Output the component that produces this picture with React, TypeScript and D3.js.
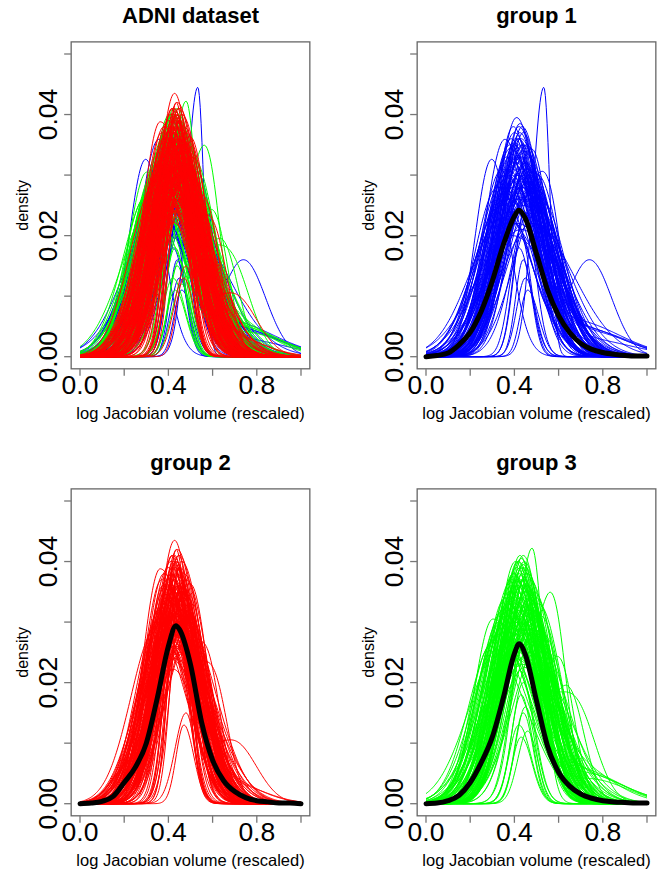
import React, { useRef, useEffect } from 'react';
import * as d3 from 'd3';

// ---- data ----
// per-subject density curves, one row per subject: [centre, peak, sd left, sd right]
const group1Curves = [
  [0.533, 0.0445, 0.05, 0.028], [0.297, 0.0326, 0.075, 0.08], [0.41, 0.0395, 0.09, 0.10],
  [0.357, 0.0359, 0.09, 0.11], [0.478, 0.0343, 0.11, 0.08], [0.42, 0.038, 0.085, 0.105],
  [0.40, 0.037, 0.095, 0.11], [0.43, 0.036, 0.10, 0.11], [0.44, 0.034, 0.11, 0.12],
  [0.38, 0.035, 0.10, 0.12], [0.415, 0.033, 0.12, 0.13], [0.45, 0.032, 0.11, 0.14],
  [0.39, 0.031, 0.125, 0.13], [0.36, 0.030, 0.12, 0.15], [0.47, 0.030, 0.12, 0.13],
  [0.43, 0.029, 0.13, 0.15], [0.40, 0.028, 0.14, 0.14], [0.42, 0.027, 0.14, 0.16],
  [0.37, 0.026, 0.14, 0.16], [0.46, 0.026, 0.13, 0.17], [0.44, 0.025, 0.15, 0.15],
  [0.41, 0.024, 0.16, 0.17], [0.35, 0.023, 0.15, 0.18], [0.48, 0.022, 0.14, 0.19],
  [0.43, 0.021, 0.16, 0.18], [0.39, 0.020, 0.17, 0.19], [0.42, 0.035, 0.08, 0.085],
  [0.44, 0.037, 0.08, 0.09], [0.405, 0.036, 0.085, 0.085], [0.455, 0.035, 0.09, 0.10],
  [0.425, 0.033, 0.095, 0.105], [0.395, 0.032, 0.11, 0.11], [0.435, 0.031, 0.115, 0.115],
  [0.385, 0.030, 0.115, 0.12], [0.465, 0.029, 0.12, 0.125], [0.41, 0.030, 0.12, 0.125],
  [0.43, 0.028, 0.125, 0.13], [0.45, 0.027, 0.125, 0.14], [0.375, 0.028, 0.13, 0.13],
  [0.42, 0.026, 0.13, 0.15], [0.49, 0.028, 0.115, 0.12], [0.50, 0.025, 0.13, 0.13],
  [0.34, 0.025, 0.125, 0.14], [0.46, 0.033, 0.085, 0.12], [0.40, 0.034, 0.09, 0.105],
  [0.415, 0.031, 0.11, 0.12], [0.445, 0.030, 0.11, 0.13], [0.36, 0.027, 0.135, 0.15],
  [0.43, 0.024, 0.14, 0.17], [0.47, 0.023, 0.15, 0.16], [0.395, 0.038, 0.085, 0.095],
  [0.425, 0.0385, 0.08, 0.09], [0.365, 0.033, 0.095, 0.12], [0.385, 0.036, 0.09, 0.10],
  [0.455, 0.031, 0.10, 0.115], [0.475, 0.027, 0.115, 0.13], [0.325, 0.028, 0.105, 0.14],
  [0.345, 0.031, 0.10, 0.13], [0.505, 0.030, 0.10, 0.10], [0.52, 0.026, 0.12, 0.11],
  [0.435, 0.035, 0.09, 0.10], [0.405, 0.029, 0.115, 0.135], [0.445, 0.026, 0.12, 0.15],
  [0.415, 0.022, 0.145, 0.17], [0.40, 0.035, 0.095, 0.11], [0.42, 0.036, 0.09, 0.10],
  [0.44, 0.035, 0.095, 0.11], [0.46, 0.031, 0.105, 0.12], [0.38, 0.033, 0.10, 0.12],
  [0.41, 0.032, 0.11, 0.12], [0.43, 0.033, 0.10, 0.115], [0.45, 0.029, 0.115, 0.13],
  [0.39, 0.029, 0.12, 0.13], [0.37, 0.031, 0.105, 0.125], [0.425, 0.037, 0.085, 0.095],
  [0.435, 0.038, 0.08, 0.095], [0.415, 0.036, 0.09, 0.10], [0.405, 0.033, 0.10, 0.11],
  [0.445, 0.032, 0.10, 0.12], [0.48, 0.031, 0.10, 0.11], [0.35, 0.028, 0.11, 0.13],
  [0.47, 0.028, 0.11, 0.125], [0.42, 0.030, 0.11, 0.13], [0.44, 0.028, 0.12, 0.14],
  [0.44, 0.016, 0.035, 0.04], [0.45, 0.013, 0.04, 0.045], [0.43, 0.020, 0.04, 0.045],
  [0.42, 0.018, 0.045, 0.055], [0.46, 0.011, 0.035, 0.05], [0.445, 0.024, 0.045, 0.05],
];
// subjects with a second mode / long tail: [centre, peak, sd, centre 2, peak 2, sd 2]
const group1Bimodal = [
  [0.40, 0.022, 0.09, 0.74, 0.016, 0.10], [0.42, 0.030, 0.10, 0.68, 0.005, 0.20],
  [0.44, 0.028, 0.105, 0.72, 0.0045, 0.19], [0.38, 0.032, 0.10, 0.66, 0.006, 0.21],
  [0.46, 0.026, 0.105, 0.75, 0.004, 0.17], [0.41, 0.025, 0.115, 0.60, 0.010, 0.09],
  [0.43, 0.024, 0.09, 0.56, 0.020, 0.06], [0.45, 0.027, 0.105, 0.70, 0.003, 0.22],
];

const group2Curves = [
  [0.428, 0.0435, 0.08, 0.08], [0.363, 0.0388, 0.08, 0.13], [0.499, 0.0363, 0.12, 0.08],
  [0.44, 0.042, 0.085, 0.095], [0.45, 0.041, 0.095, 0.095], [0.42, 0.041, 0.085, 0.10],
  [0.46, 0.040, 0.095, 0.10], [0.37, 0.037, 0.085, 0.135], [0.38, 0.038, 0.085, 0.125],
  [0.40, 0.039, 0.095, 0.105], [0.41, 0.040, 0.085, 0.10], [0.43, 0.039, 0.095, 0.11],
  [0.47, 0.038, 0.11, 0.095], [0.48, 0.037, 0.115, 0.10], [0.435, 0.038, 0.10, 0.11],
  [0.415, 0.037, 0.10, 0.12], [0.445, 0.036, 0.11, 0.11], [0.39, 0.036, 0.10, 0.12],
  [0.455, 0.035, 0.11, 0.12], [0.425, 0.035, 0.11, 0.125], [0.405, 0.034, 0.115, 0.125],
  [0.465, 0.034, 0.115, 0.12], [0.44, 0.033, 0.115, 0.13], [0.42, 0.033, 0.12, 0.125],
  [0.385, 0.032, 0.12, 0.13], [0.45, 0.032, 0.115, 0.14], [0.43, 0.031, 0.13, 0.13],
  [0.41, 0.031, 0.13, 0.14], [0.475, 0.030, 0.12, 0.14], [0.395, 0.030, 0.125, 0.14],
  [0.44, 0.029, 0.125, 0.145], [0.42, 0.028, 0.13, 0.15], [0.46, 0.028, 0.13, 0.15],
  [0.37, 0.027, 0.12, 0.15], [0.43, 0.026, 0.13, 0.16], [0.45, 0.025, 0.13, 0.16],
  [0.40, 0.024, 0.13, 0.17], [0.44, 0.040, 0.05, 0.06], [0.43, 0.041, 0.05, 0.06],
  [0.45, 0.039, 0.05, 0.065], [0.42, 0.038, 0.05, 0.06], [0.46, 0.037, 0.055, 0.06],
  [0.41, 0.036, 0.055, 0.065], [0.435, 0.042, 0.045, 0.055], [0.445, 0.039, 0.042, 0.05],
  [0.44, 0.036, 0.04, 0.048], [0.45, 0.034, 0.04, 0.048], [0.43, 0.035, 0.045, 0.055],
  [0.47, 0.036, 0.055, 0.055], [0.49, 0.034, 0.09, 0.075], [0.38, 0.034, 0.085, 0.125],
  [0.36, 0.032, 0.095, 0.135], [0.50, 0.031, 0.11, 0.09], [0.35, 0.030, 0.10, 0.15],
  [0.425, 0.034, 0.095, 0.095], [0.455, 0.033, 0.095, 0.095], [0.415, 0.032, 0.10, 0.10],
  [0.435, 0.030, 0.11, 0.105], [0.465, 0.031, 0.10, 0.11], [0.405, 0.029, 0.115, 0.11],
  [0.395, 0.037, 0.095, 0.11], [0.425, 0.040, 0.08, 0.09], [0.455, 0.038, 0.085, 0.09],
  [0.485, 0.035, 0.105, 0.09], [0.375, 0.033, 0.105, 0.13], [0.345, 0.029, 0.115, 0.155],
  [0.515, 0.029, 0.125, 0.09], [0.41, 0.027, 0.125, 0.14], [0.44, 0.031, 0.12, 0.125],
  [0.42, 0.036, 0.08, 0.09], [0.465, 0.027, 0.13, 0.125], [0.43, 0.024, 0.13, 0.15],
  [0.39, 0.028, 0.12, 0.15], [0.445, 0.033, 0.105, 0.105], [0.40, 0.036, 0.08, 0.09],
  [0.41, 0.038, 0.075, 0.095], [0.42, 0.039, 0.08, 0.085], [0.43, 0.037, 0.085, 0.09],
  [0.44, 0.038, 0.08, 0.09], [0.45, 0.036, 0.085, 0.095], [0.46, 0.035, 0.09, 0.09],
  [0.47, 0.034, 0.095, 0.085], [0.39, 0.034, 0.09, 0.10], [0.38, 0.033, 0.095, 0.105],
  [0.40, 0.031, 0.10, 0.105], [0.42, 0.032, 0.10, 0.10], [0.44, 0.030, 0.105, 0.11],
  [0.46, 0.031, 0.10, 0.105], [0.48, 0.030, 0.105, 0.10], [0.37, 0.030, 0.10, 0.115],
  [0.43, 0.028, 0.115, 0.115], [0.41, 0.029, 0.11, 0.12], [0.45, 0.029, 0.11, 0.115],
  [0.395, 0.027, 0.12, 0.125], [0.415, 0.041, 0.065, 0.075], [0.435, 0.040, 0.07, 0.08],
  [0.445, 0.041, 0.065, 0.075], [0.455, 0.039, 0.075, 0.08], [0.425, 0.037, 0.075, 0.085],
  [0.405, 0.036, 0.08, 0.09], [0.465, 0.036, 0.08, 0.085], [0.475, 0.035, 0.085, 0.08],
  [0.385, 0.035, 0.08, 0.10], [0.375, 0.036, 0.075, 0.105], [0.49, 0.032, 0.10, 0.085],
  [0.50, 0.029, 0.11, 0.085], [0.36, 0.030, 0.09, 0.12], [0.355, 0.028, 0.10, 0.13],
  [0.44, 0.027, 0.12, 0.12], [0.42, 0.026, 0.125, 0.13], [0.46, 0.026, 0.12, 0.125],
  [0.43, 0.033, 0.09, 0.10], [0.41, 0.034, 0.09, 0.095], [0.45, 0.034, 0.09, 0.10],
  [0.47, 0.013, 0.035, 0.045], [0.48, 0.015, 0.05, 0.04],
];
const group2Bimodal = [
  [0.43, 0.025, 0.09, 0.582, 0.019, 0.06], [0.44, 0.024, 0.095, 0.61, 0.017, 0.065],
  [0.42, 0.022, 0.10, 0.70, 0.010, 0.10], [0.44, 0.028, 0.095, 0.20, 0.005, 0.07],
  [0.45, 0.030, 0.09, 0.22, 0.006, 0.08], [0.43, 0.030, 0.10, 0.65, 0.004, 0.15],
  [0.45, 0.028, 0.10, 0.70, 0.003, 0.14],
];

const group3Curves = [
  [0.48, 0.0422, 0.07, 0.05], [0.44, 0.041, 0.085, 0.09], [0.42, 0.040, 0.09, 0.095],
  [0.43, 0.0405, 0.085, 0.10], [0.45, 0.039, 0.09, 0.095], [0.41, 0.039, 0.095, 0.10],
  [0.40, 0.038, 0.10, 0.105], [0.46, 0.038, 0.095, 0.10], [0.39, 0.037, 0.11, 0.105],
  [0.47, 0.037, 0.10, 0.105], [0.435, 0.036, 0.11, 0.11], [0.415, 0.036, 0.11, 0.11],
  [0.38, 0.035, 0.115, 0.115], [0.455, 0.035, 0.11, 0.12], [0.425, 0.034, 0.115, 0.125],
  [0.445, 0.034, 0.115, 0.125], [0.37, 0.033, 0.12, 0.125], [0.405, 0.033, 0.12, 0.13],
  [0.465, 0.032, 0.12, 0.13], [0.43, 0.032, 0.125, 0.14], [0.36, 0.031, 0.125, 0.14],
  [0.395, 0.031, 0.125, 0.14], [0.44, 0.030, 0.13, 0.15], [0.42, 0.030, 0.13, 0.15],
  [0.35, 0.029, 0.13, 0.15], [0.48, 0.029, 0.125, 0.15], [0.41, 0.028, 0.14, 0.16],
  [0.45, 0.028, 0.14, 0.16], [0.385, 0.027, 0.145, 0.16], [0.43, 0.026, 0.145, 0.17],
  [0.34, 0.026, 0.145, 0.17], [0.47, 0.025, 0.145, 0.17], [0.40, 0.024, 0.155, 0.18],
  [0.44, 0.023, 0.155, 0.18], [0.303, 0.0305, 0.085, 0.155], [0.29, 0.026, 0.09, 0.165],
  [0.32, 0.028, 0.10, 0.155], [0.33, 0.030, 0.10, 0.145], [0.50, 0.034, 0.10, 0.095],
  [0.52, 0.031, 0.12, 0.095], [0.51, 0.033, 0.115, 0.105], [0.49, 0.035, 0.095, 0.10],
  [0.425, 0.039, 0.085, 0.085], [0.435, 0.038, 0.08, 0.085], [0.415, 0.037, 0.085, 0.09],
  [0.445, 0.037, 0.085, 0.095], [0.455, 0.036, 0.09, 0.095], [0.39, 0.034, 0.11, 0.11],
  [0.41, 0.035, 0.10, 0.115], [0.46, 0.033, 0.10, 0.12], [0.375, 0.032, 0.115, 0.125],
  [0.475, 0.031, 0.11, 0.125], [0.405, 0.040, 0.09, 0.09], [0.44, 0.0395, 0.09, 0.09],
  [0.36, 0.034, 0.10, 0.12], [0.35, 0.032, 0.11, 0.13], [0.31, 0.027, 0.115, 0.155],
  [0.53, 0.028, 0.13, 0.10], [0.42, 0.033, 0.12, 0.12], [0.46, 0.030, 0.12, 0.14],
  [0.395, 0.029, 0.13, 0.145], [0.43, 0.037, 0.095, 0.10], [0.45, 0.031, 0.115, 0.13],
  [0.415, 0.025, 0.15, 0.165], [0.40, 0.036, 0.095, 0.10], [0.41, 0.037, 0.09, 0.10],
  [0.42, 0.038, 0.09, 0.095], [0.43, 0.036, 0.10, 0.10], [0.44, 0.037, 0.095, 0.105],
  [0.45, 0.035, 0.10, 0.11], [0.46, 0.036, 0.095, 0.10], [0.47, 0.034, 0.105, 0.105],
  [0.39, 0.035, 0.10, 0.11], [0.38, 0.033, 0.105, 0.12], [0.37, 0.032, 0.11, 0.125],
  [0.36, 0.030, 0.115, 0.13], [0.42, 0.031, 0.115, 0.125], [0.44, 0.032, 0.11, 0.12],
  [0.48, 0.033, 0.105, 0.11], [0.49, 0.031, 0.11, 0.11], [0.40, 0.030, 0.12, 0.13],
  [0.43, 0.029, 0.125, 0.14], [0.45, 0.033, 0.10, 0.115], [0.41, 0.032, 0.11, 0.12],
  [0.425, 0.041, 0.08, 0.085], [0.445, 0.040, 0.085, 0.09], [0.415, 0.040, 0.085, 0.09],
  [0.435, 0.039, 0.09, 0.095], [0.455, 0.038, 0.09, 0.09], [0.395, 0.038, 0.09, 0.10],
  [0.465, 0.034, 0.10, 0.11], [0.385, 0.036, 0.095, 0.105], [0.475, 0.033, 0.10, 0.11],
  [0.365, 0.031, 0.11, 0.12], [0.43, 0.018, 0.045, 0.05], [0.44, 0.015, 0.04, 0.045],
  [0.42, 0.013, 0.045, 0.055], [0.45, 0.016, 0.045, 0.045], [0.43, 0.011, 0.04, 0.05],
  [0.44, 0.020, 0.05, 0.055], [0.46, 0.012, 0.045, 0.045], [0.425, 0.022, 0.055, 0.06],
];
const group3Bimodal = [
  [0.42, 0.025, 0.10, 0.58, 0.027, 0.06], [0.40, 0.026, 0.10, 0.61, 0.021, 0.065],
  [0.42, 0.024, 0.105, 0.65, 0.017, 0.07], [0.44, 0.022, 0.115, 0.68, 0.015, 0.09],
  [0.40, 0.028, 0.10, 0.66, 0.006, 0.20], [0.43, 0.027, 0.11, 0.70, 0.005, 0.19],
  [0.45, 0.026, 0.105, 0.64, 0.007, 0.18], [0.41, 0.030, 0.10, 0.72, 0.005, 0.17],
  [0.38, 0.025, 0.115, 0.75, 0.004, 0.16],
];

// group mean densities (thick black curves): [x, density]
const group1Mean = [
  [0, 0], [0.05, 0.0002], [0.10, 0.0006], [0.15, 0.0020], [0.20, 0.0040], [0.25, 0.0075],
  [0.30, 0.0125], [0.35, 0.0185], [0.40, 0.0232], [0.42, 0.0242], [0.45, 0.0228],
  [0.50, 0.0170], [0.55, 0.0110], [0.60, 0.0068], [0.65, 0.0040], [0.70, 0.0022],
  [0.75, 0.0012], [0.80, 0.0007], [0.85, 0.0004], [0.90, 0.0002], [0.95, 0.0001], [1.0, 0.0001],
];
const group2Mean = [
  [0, 0], [0.05, 0.0001], [0.10, 0.0004], [0.15, 0.0012], [0.20, 0.0035], [0.25, 0.0060],
  [0.30, 0.0100], [0.35, 0.0175], [0.40, 0.0260], [0.434, 0.0294], [0.45, 0.0288],
  [0.50, 0.0230], [0.55, 0.0135], [0.60, 0.0072], [0.65, 0.0038], [0.70, 0.0020],
  [0.75, 0.0010], [0.80, 0.0005], [0.85, 0.0003], [0.90, 0.0001], [0.95, 0.0001], [1.0, 0],
];
const group3Mean = [
  [0, 0], [0.05, 0.0001], [0.10, 0.0005], [0.15, 0.0014], [0.20, 0.0035], [0.25, 0.0068],
  [0.30, 0.0110], [0.35, 0.0175], [0.40, 0.0248], [0.421, 0.0264], [0.45, 0.0246],
  [0.50, 0.0170], [0.55, 0.0095], [0.60, 0.0052], [0.65, 0.0029], [0.70, 0.0016],
  [0.75, 0.0009], [0.80, 0.0005], [0.85, 0.0003], [0.90, 0.0002], [0.95, 0.0001], [1.0, 0.0001],
];

const panelTitles = ['ADNI dataset', 'group 1', 'group 2', 'group 3'];
const xTicks = [0, 0.2, 0.4, 0.6, 0.8, 1.0];
const xTickLabels = ['0.0', '', '0.4', '', '0.8', ''];
const yTicks = [0, 0.01, 0.02, 0.03, 0.04, 0.05];
const yTickLabels = ['0.00', '', '0.02', '', '0.04', ''];

const groupColors = ['#0000ff', '#ff0000', '#00ff00'];

const grid = d3.range(0, 1.0001, 0.004);

const skewed = (c, h, sl, sr, x) => {
  const s = x < c ? sl : sr;
  return h * Math.exp(-((x - c) * (x - c)) / (2 * s * s));
};

const App = () => {
  const ref = useRef(null);

  useEffect(() => {
    const svg = d3.select(ref.current);
    svg.selectAll('*').remove();

    const groups = [
      { curves: group1Curves, bimodal: group1Bimodal, mean: group1Mean, color: groupColors[0] },
      { curves: group2Curves, bimodal: group2Bimodal, mean: group2Mean, color: groupColors[1] },
      { curves: group3Curves, bimodal: group3Bimodal, mean: group3Mean, color: groupColors[2] },
    ];

    const panelW = 346;
    const panelH = 447;
    const font = '"Liberation Sans", Arial, Helvetica, sans-serif';
    const axisColor = '#777';

    panelTitles.forEach((title, p) => {
      const ox = (p % 2) * panelW;
      const oy = Math.floor(p / 2) * panelH;

      const x = d3.scaleLinear().domain([0, 1]).range([ox + 80, ox + 301]);
      const y = d3.scaleLinear().domain([0, 0.05]).range([oy + 356.7, oy + 54]);

      const g = svg.append('g');

      const line = d3.line()
        .x((d) => x(d[0]))
        .y((d) => y(d[1]));

      // first panel overlays all groups: blue, then green, then red on top
      const shown = p === 0 ? [groups[0], groups[2], groups[1]] : [groups[p - 1]];

      shown.forEach((grp) => {
        const paths = [];
        grp.curves.forEach(([c, h, sl, sr]) => {
          paths.push(grid.map((t) => [t, skewed(c, h, sl, sr, t)]));
        });
        grp.bimodal.forEach(([c1, h1, s1, c2, h2, s2]) => {
          paths.push(grid.map((t) => [t, skewed(c1, h1, s1, s1, t) + skewed(c2, h2, s2, s2, t)]));
        });
        g.append('g')
          .selectAll('path')
          .data(paths)
          .enter().append('path')
          .attr('d', line)
          .attr('fill', 'none')
          .attr('stroke', grp.color)
          .attr('stroke-width', 1);
      });

      if (p > 0) {
        g.append('path')
          .attr('d', line.curve(d3.curveMonotoneX)(groups[p - 1].mean))
          .attr('fill', 'none')
          .attr('stroke', '#000')
          .attr('stroke-width', 5)
          .attr('stroke-linecap', 'round')
          .attr('stroke-linejoin', 'round');
      }

      // box
      g.append('rect')
        .attr('x', x(-0.04))
        .attr('y', y(0.052))
        .attr('width', x(1.04) - x(-0.04))
        .attr('height', y(-0.002) - y(0.052))
        .attr('fill', 'none')
        .attr('stroke', '#666')
        .attr('stroke-width', 1.3);

      const x0 = x(-0.04);
      const yb = y(-0.002);

      yTicks.forEach((v, i) => {
        g.append('line')
          .attr('x1', x0 - 7).attr('x2', x0)
          .attr('y1', y(v)).attr('y2', y(v))
          .attr('stroke', axisColor).attr('stroke-width', 1.3);
        if (yTickLabels[i]) {
          g.append('text')
            .attr('transform', `translate(${ox + 56.7},${y(v)}) rotate(-90)`)
            .attr('text-anchor', 'middle')
            .attr('font-family', font)
            .attr('font-size', 26.5)
            .text(yTickLabels[i]);
        }
      });

      xTicks.forEach((v, i) => {
        g.append('line')
          .attr('x1', x(v)).attr('x2', x(v))
          .attr('y1', yb).attr('y2', yb + 7)
          .attr('stroke', axisColor).attr('stroke-width', 1.3);
        if (xTickLabels[i]) {
          g.append('text')
            .attr('x', x(v))
            .attr('y', oy + 393.5)
            .attr('text-anchor', 'middle')
            .attr('font-family', font)
            .attr('font-size', 26.5)
            .text(xTickLabels[i]);
        }
      });

      const cx = (x(-0.04) + x(1.04)) / 2;

      g.append('text')
        .attr('x', cx)
        .attr('y', oy + 23.3)
        .attr('text-anchor', 'middle')
        .attr('font-family', font)
        .attr('font-weight', 'bold')
        .attr('font-size', 22)
        .text(title);

      g.append('text')
        .attr('x', cx)
        .attr('y', oy + 419)
        .attr('text-anchor', 'middle')
        .attr('font-family', font)
        .attr('font-size', 16.5)
        .text('log Jacobian volume (rescaled)');

      g.append('text')
        .attr('transform', `translate(${ox + 28.3},${(y(0.052) + yb) / 2}) rotate(-90)`)
        .attr('text-anchor', 'middle')
        .attr('font-family', font)
        .attr('font-size', 16)
        .text('density');
    });
  }, []);

  return (
    <svg
      ref={ref}
      width={662}
      height={873}
      style={{ position: 'absolute', left: 0, top: 0, background: '#fff' }}
    />
  );
};

export default App;
